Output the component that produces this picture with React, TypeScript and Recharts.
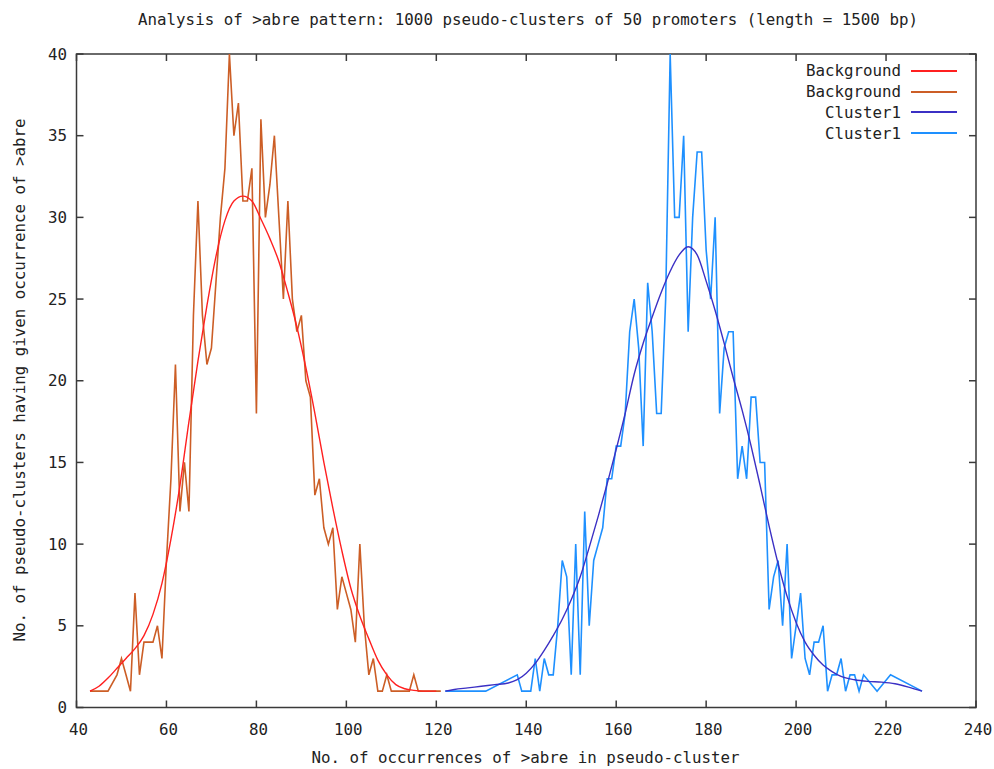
import { LineChart, Line, XAxis, YAxis, ReferenceArea } from "recharts";

// Background: counts per occurrence value (zero-count bins are absent)
const BG_X = [
  43, 45, 47, 49, 50, 51, 52, 53, 54, 55,
  56, 57, 58, 59, 60, 61, 62, 63, 64, 65,
  66, 67, 68, 69, 70, 71, 72, 73, 74, 75,
  76, 77, 78, 79, 80, 81, 82, 83, 84, 85,
  86, 87, 88, 89, 90, 91, 92, 93, 94, 95,
  96, 97, 98, 99, 100, 101, 102, 103, 104, 105,
  106, 107, 108, 109, 110, 112, 114, 115, 116, 118,
  121,
];
const BG_COUNT = [
  1, 1, 1, 2, 3, 2, 1, 7, 2, 4,
  4, 4, 5, 3, 9, 14, 21, 12, 15, 12,
  24, 31, 24, 21, 22, 26, 30, 33, 40, 35,
  37, 31, 31, 33, 18, 36, 30, 32, 35, 30,
  25, 31, 25, 23, 24, 20, 19, 13, 14, 11,
  10, 11, 6, 8, 7, 6, 4, 10, 5, 2,
  3, 1, 1, 2, 1, 1, 1, 2, 1, 1,
  1,
];

// Background: smoothed curve
const BG_FIT_X = [
  43, 45, 47, 49, 51, 53, 55, 57, 59, 61,
  63, 65, 67, 69, 71, 73, 75, 77, 79, 81,
  83, 85, 87, 89, 91, 93, 95, 97, 99, 101,
  103, 105, 107, 109, 111, 113, 115, 117, 120,
];
const BG_FIT = [
  1.0, 1.3, 1.8, 2.4, 3.0, 3.6, 4.4, 5.7, 7.6, 10.3,
  13.6, 17.5, 21.2, 24.6, 27.6, 29.8, 31.0, 31.3, 31.0, 29.9,
  28.7, 27.3, 25.4, 23.3, 20.8, 18.0, 15.0, 12.2, 9.6, 7.3,
  5.6, 4.2, 2.9, 2.0, 1.4, 1.15, 1.05, 1.0, 1.0,
];

// Cluster1: counts per occurrence value
const CL_X = [
  122, 125, 128, 131, 138, 139, 141, 142, 143, 144,
  145, 146, 147, 148, 149, 150, 151, 152, 153, 154,
  155, 156, 157, 158, 159, 160, 161, 162, 163, 164,
  165, 166, 167, 168, 169, 170, 171, 172, 173, 174,
  175, 176, 177, 178, 179, 180, 181, 182, 183, 184,
  185, 186, 187, 188, 189, 190, 191, 192, 193, 194,
  195, 196, 197, 198, 199, 200, 201, 202, 203, 204,
  205, 206, 207, 208, 209, 210, 211, 212, 213, 214,
  215, 218, 221, 228,
];
const CL_COUNT = [
  1, 1, 1, 1, 2, 1, 1, 3, 1, 3,
  2, 2, 5, 9, 8, 2, 10, 2, 12, 5,
  9, 10, 11, 14, 14, 16, 16, 18, 23, 25,
  22, 16, 26, 23, 18, 18, 25, 40, 30, 30,
  35, 23, 30, 34, 34, 28, 25, 30, 18, 22,
  23, 23, 14, 16, 14, 19, 19, 15, 15, 6,
  8, 9, 5, 10, 3, 5, 7, 3, 2, 4,
  4, 5, 1, 2, 2, 3, 1, 2, 2, 1,
  2, 1, 2, 1,
];

// Cluster1: smoothed curve
const CL_FIT_X = [
  122, 124, 127, 130, 133, 136, 138, 140, 142, 144,
  146, 148, 150, 152, 154, 156, 158, 160, 162, 164,
  166, 168, 170, 172, 174, 176, 178, 180, 182, 184,
  186, 188, 190, 192, 194, 196, 198, 200, 202, 204,
  206, 208, 210, 213, 216, 219, 222, 225, 228,
];
const CL_FIT = [
  1.0, 1.1, 1.2, 1.3, 1.4, 1.5, 1.7, 2.1, 2.7, 3.5,
  4.4, 5.4, 6.6, 8.0, 9.8, 11.7, 13.7, 15.8, 18.0, 20.4,
  22.3, 23.9, 25.4, 26.7, 27.7, 28.2, 27.7, 26.1, 24.3, 22.3,
  20.2, 18.2, 16.0, 13.6, 11.1, 8.8, 6.8, 5.2, 4.0, 3.2,
  2.6, 2.2, 1.9, 1.7, 1.6, 1.55, 1.45, 1.25, 1.0,
];

const X_TICKS = [40, 60, 80, 100, 120, 140, 160, 180, 200, 220, 240];
const Y_TICKS = [0, 5, 10, 15, 20, 25, 30, 35, 40];

const TITLE =
  "Analysis of >abre pattern: 1000 pseudo-clusters of 50 promoters (length = 1500 bp)";
const X_LABEL = "No. of occurrences of >abre in pseudo-cluster";
const Y_LABEL = "No. of pseudo-clusters having given occurrence of >abre";

const SERIES = [
  { name: "Background", color: "#ff2020" },
  { name: "Background", color: "#cc5e26" },
  { name: "Cluster1", color: "#3b30c4" },
  { name: "Cluster1", color: "#1e90ff" },
];

const W = 994;
const H = 769;
const LEFT = 76.5;
const RIGHT = 976;
const TOP = 54;
const BOTTOM = 707.5;
const FONT = "'DejaVu Sans Mono', 'Liberation Mono', monospace";
const TEXT = "#222";
const FRAME = "#3a3a3a";

const toPoints = (xs: number[], ys: number[]) => xs.map((x, i) => ({ x, y: ys[i] }));

const XTick = ({ x, payload }: any) => (
  <g>
    <line x1={x} x2={x} y1={BOTTOM} y2={BOTTOM - 7} stroke={FRAME} strokeWidth={1.5} />
    <line x1={x} x2={x} y1={TOP} y2={TOP + 7} stroke={FRAME} strokeWidth={1.5} />
    <text x={x + 2} y={735} textAnchor="middle" fontFamily={FONT} fontSize={15.8} fill={TEXT}>
      {payload.value}
    </text>
  </g>
);

const YTick = ({ y, payload }: any) => (
  <g>
    <line x1={LEFT} x2={LEFT + 7} y1={y} y2={y} stroke={FRAME} strokeWidth={1.5} />
    <line x1={RIGHT} x2={RIGHT - 7} y1={y} y2={y} stroke={FRAME} strokeWidth={1.5} />
    <text x={67} y={y + 5.5} textAnchor="end" fontFamily={FONT} fontSize={15.8} fill={TEXT}>
      {payload.value}
    </text>
  </g>
);

export default function App() {
  const textStyle = { position: "absolute" as const, fontFamily: FONT, fontSize: 15.8, color: TEXT, lineHeight: "20px", whiteSpace: "nowrap" as const };

  return (
    <div style={{ position: "absolute", left: 0, top: 0, width: W, height: H, background: "#fff" }}>
      <LineChart width={W} height={H} margin={{ top: TOP, right: W - RIGHT, bottom: 0, left: 0 }}>
        <XAxis
          type="number"
          dataKey="x"
          domain={[40, 240]}
          ticks={X_TICKS}
          interval={0}
          height={H - BOTTOM}
          axisLine={false}
          tickLine={false}
          tick={(p: any) => <XTick {...p} />}
          allowDataOverflow
        />
        <YAxis
          type="number"
          domain={[0, 40]}
          ticks={Y_TICKS}
          interval={0}
          width={LEFT}
          axisLine={false}
          tickLine={false}
          tick={(p: any) => <YTick {...p} />}
          allowDataOverflow
        />
        <ReferenceArea x1={40} x2={240} y1={0} y2={40} fill="none" stroke={FRAME} strokeWidth={1.5} ifOverflow="visible" />
        <Line data={toPoints(BG_X, BG_COUNT)} dataKey="y" type="linear" stroke={SERIES[1].color} strokeWidth={1.6} dot={false} isAnimationActive={false} />
        <Line data={toPoints(BG_FIT_X, BG_FIT)} dataKey="y" type="monotone" stroke={SERIES[0].color} strokeWidth={1.4} dot={false} isAnimationActive={false} />
        <Line data={toPoints(CL_X, CL_COUNT)} dataKey="y" type="linear" stroke={SERIES[3].color} strokeWidth={1.6} dot={false} isAnimationActive={false} />
        <Line data={toPoints(CL_FIT_X, CL_FIT)} dataKey="y" type="monotone" stroke={SERIES[2].color} strokeWidth={1.4} dot={false} isAnimationActive={false} />
      </LineChart>

      <div style={{ ...textStyle, left: 0, top: 10, width: 1056, textAlign: "center" }}>{TITLE}</div>
      <div style={{ ...textStyle, left: 0, top: 748, width: 1051, textAlign: "center" }}>{X_LABEL}</div>
      <div
        style={{
          ...textStyle,
          left: 20 - 300,
          top: 370,
          width: 600,
          textAlign: "center",
          transform: "rotate(-90deg)",
        }}
      >
        {Y_LABEL}
      </div>

      <div style={{ position: "absolute", left: 0, top: 60.2, width: 957 }}>
        {SERIES.map((s, i) => (
          <div key={i} style={{ display: "flex", justifyContent: "flex-end", alignItems: "center", height: 20.9 }}>
            <span style={{ fontFamily: FONT, fontSize: 15.8, color: TEXT }}>{s.name}</span>
            <span style={{ display: "inline-block", width: 46, height: 2, background: s.color, marginLeft: 10 }} />
          </div>
        ))}
      </div>
    </div>
  );
}
